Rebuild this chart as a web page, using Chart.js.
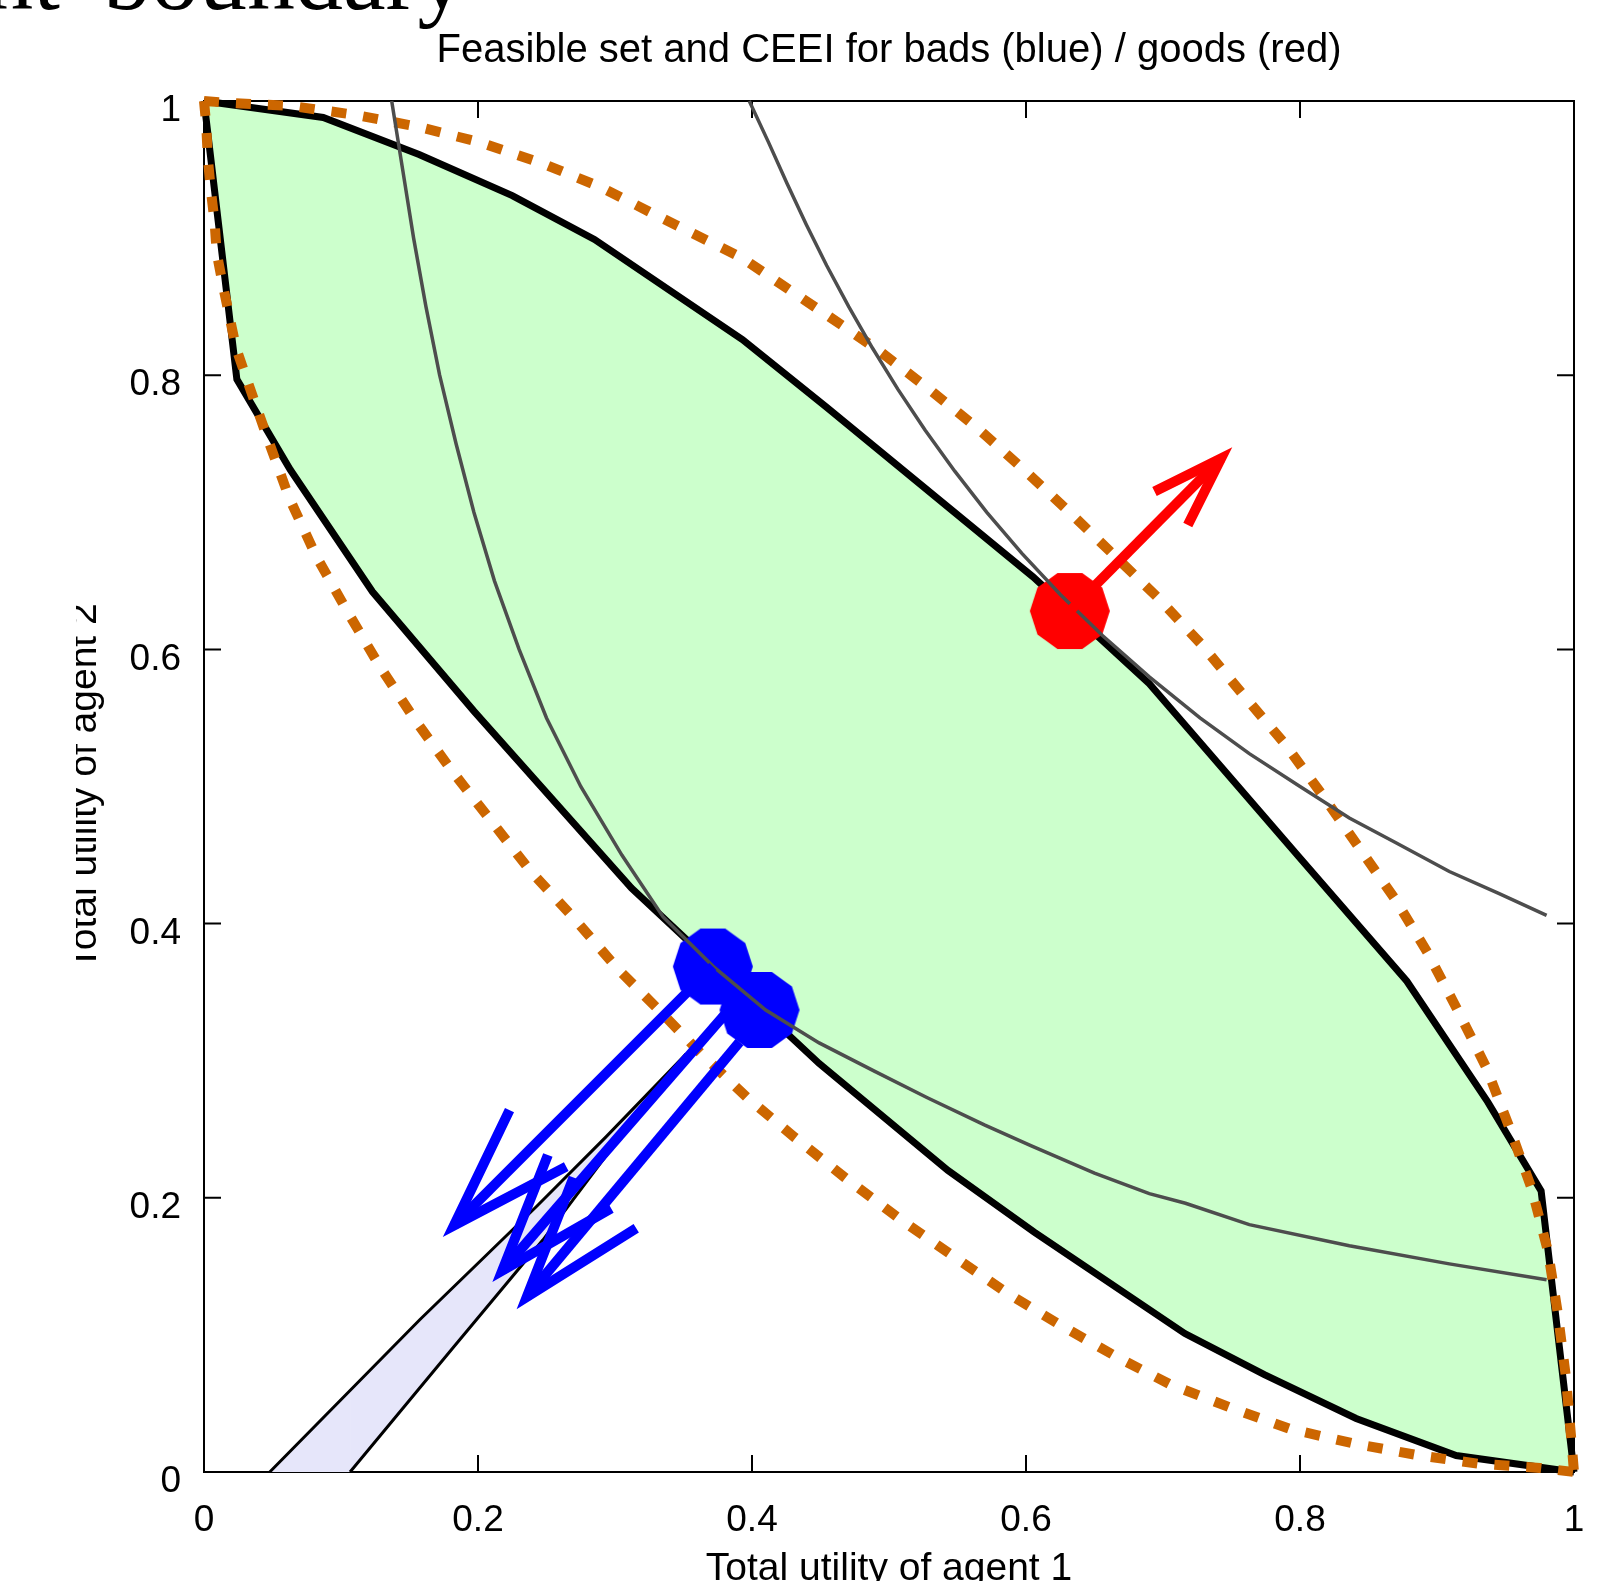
<!DOCTYPE html>
<html>
<head>
<meta charset="utf-8">
<script src="https://cdn.jsdelivr.net/npm/chart.js@4.4.0/dist/chart.umd.min.js"></script>
<style>
  html, body { margin: 0; padding: 0; background: #fff; }
  #wrap { position: relative; width: 1617px; height: 1581px; overflow: hidden; }
  #chart { position: absolute; left: 0; top: 0; }
  #cut { position: absolute; left: 0; top: 560px; width: 76px; height: 460px; background: #fff; }
</style>
</head>
<body>
<div id="wrap">
  <canvas id="chart" width="1617" height="1620"></canvas>
  <div id="cut"></div>
</div>
<script>
// feasible set: upper and lower boundary
const upperX = [0, 0.087, 0.157, 0.225, 0.285, 0.393, 0.454, 0.605, 0.690, 0.799, 0.878, 0.937, 0.976, 1];
const upperY = [1, 0.988, 0.961, 0.931, 0.899, 0.826, 0.777, 0.653, 0.575, 0.449, 0.358, 0.270, 0.205, 0];
const lowerX = [0, 0.024, 0.063, 0.123, 0.197, 0.312, 0.449, 0.543, 0.606, 0.716, 0.774, 0.841, 0.914, 1];
const lowerY = [1, 0.797, 0.731, 0.642, 0.555, 0.426, 0.298, 0.220, 0.175, 0.101, 0.071, 0.039, 0.012, 0];

// dotted bounds (outer / inner)
const outerX = [0, 0.0173, 0.0644, 0.111, 0.156, 0.201, 0.247, 0.29, 0.332, 0.392, 0.453, 0.492, 0.529, 0.565, 0.600, 0.634, 0.665, 0.696, 0.728, 0.758, 0.789, 0.8155, 0.842, 0.870, 0.893, 0.915, 0.936, 0.953, 0.969, 0.981, 0.988, 0.994, 0.998, 1];
const outerY = [1, 0.9987, 0.9963, 0.9898, 0.9813, 0.970, 0.9545, 0.937, 0.9157, 0.886, 0.845, 0.8184, 0.790, 0.761, 0.7297, 0.698, 0.668, 0.638, 0.6037, 0.5675, 0.531, 0.495, 0.457, 0.417, 0.379, 0.337, 0.295, 0.251, 0.207, 0.161, 0.117, 0.070, 0.024, 0];
const innerX = [0, 0.0016, 0.0028, 0.005, 0.0077, 0.0093, 0.0137, 0.0186, 0.0235, 0.031, 0.0466, 0.0624, 0.0819, 0.105, 0.129, 0.1544, 0.1816, 0.2108, 0.2388, 0.2704, 0.302, 0.333, 0.363, 0.397, 0.43, 0.47, 0.51, 0.549, 0.587, 0.627, 0.668, 0.705, 0.749, 0.792, 0.8385, 0.8848, 0.93, 0.975, 1];
const innerY = [1, 0.9831, 0.958, 0.935, 0.912, 0.889, 0.866, 0.8427, 0.8196, 0.7977, 0.7533, 0.710, 0.668, 0.627, 0.5865, 0.548, 0.5106, 0.4734, 0.4377, 0.4035, 0.367, 0.336, 0.305, 0.2726, 0.245, 0.213, 0.183, 0.156, 0.130, 0.106, 0.083, 0.064, 0.047, 0.0316, 0.0209, 0.0125, 0.006, 0.003, 0];

// indifference curves
const curveAX = [0.137, 0.145, 0.153, 0.162, 0.172, 0.184, 0.197, 0.212, 0.23, 0.25, 0.275, 0.305, 0.335, 0.3714, 0.41, 0.449, 0.49, 0.528, 0.57, 0.6035, 0.65, 0.69, 0.7164, 0.763, 0.836, 0.909, 0.98];
const curveAY = [1, 0.95, 0.9, 0.85, 0.8, 0.75, 0.7, 0.65, 0.6, 0.55, 0.5, 0.45, 0.405, 0.369, 0.337, 0.313, 0.292, 0.273, 0.253, 0.238, 0.218, 0.203, 0.196, 0.1804, 0.165, 0.1518, 0.1403];
const curveBX = [0.398, 0.412, 0.4255, 0.4396, 0.4545, 0.4706, 0.4878, 0.5063, 0.5263, 0.548, 0.5714, 0.597, 0.625, 0.656, 0.69, 0.727, 0.763, 0.80, 0.836, 0.87, 0.909, 0.945, 0.98];
const curveBY = [1, 0.97, 0.94, 0.91, 0.88, 0.85, 0.82, 0.79, 0.76, 0.73, 0.70, 0.67, 0.64, 0.61, 0.58, 0.55, 0.524, 0.5, 0.477, 0.459, 0.438, 0.422, 0.406];

// cone (lavender wedge)
const coneLeftX = [0.048, 0.1573, 0.2425, 0.2936, 0.352];
const coneLeftY = [0, 0.1109, 0.1935, 0.2446, 0.305];
const coneRightX = [0.048, 0.1066, 0.1804, 0.2473, 0.3155, 0.352];
const coneRightY = [0, 0, 0.089, 0.1692, 0.26, 0.305];

// equilibrium points
const badsX = [0.3714, 0.4055];
const badsY = [0.3687, 0.337];
const goodsX = [0.632];
const goodsY = [0.628];

// arrows: first one is goods, the rest bads
const arrowStartX = [0.632, 0.3714, 0.39, 0.3909];
const arrowStartY = [0.628, 0.3687, 0.345, 0.3136];
const arrowTipX = [0.7424, 0.1824, 0.2177, 0.2356];
const arrowTipY = [0.7393, 0.1798, 0.1469, 0.1277];
const barbAX = [0.6938, 0.223, 0.251, 0.2697];
const barbAY = [0.7151, 0.264, 0.2312, 0.2148];
const barbBX = [0.7181, 0.2644, 0.2972, 0.3155];
const barbBY = [0.6908, 0.2227, 0.1923, 0.1778];

const xTicks = [0, 0.2, 0.4, 0.6, 0.8, 1];
const xTickLabels = ['0', '0.2', '0.4', '0.6', '0.8', '1'];
const yTicks = [0, 0.2, 0.4, 0.6, 0.8, 1];
const yTickLabels = ['0', '0.2', '0.4', '0.6', '0.8', '1'];

const pts = (xs, ys) => xs.map((x, i) => ({x: x, y: ys[i]}));

function decagon(color, r) {
    const c = document.createElement('canvas');
    c.width = c.height = 2 * r + 2;
    const g = c.getContext('2d');
    g.fillStyle = color;
    g.beginPath();
    for (let k = 0; k < 10; k++) {
        const a = k * Math.PI / 5;
        g.lineTo(r + 1 + r * Math.cos(a), r + 1 + r * Math.sin(a));
    }
    g.closePath();
    g.fill();
    return c;
}

function line(data, color, width, order, extra) {
    return Object.assign({
        data: data,
        borderColor: color,
        borderWidth: width,
        pointRadius: 0,
        fill: false,
        tension: 0,
        clip: false,
        order: order
    }, extra || {});
}

const dotted = {borderDash: [15, 17], borderCapStyle: 'butt'};

const datasets = [
    line(pts(upperX, upperY), '#000', 7, 8, {fill: '+1', backgroundColor: '#ccffcc', borderJoinStyle: 'miter'}),
    line(pts(lowerX, lowerY), '#000', 7, 7, {borderJoinStyle: 'miter'}),
    line(pts(coneLeftX, coneLeftY), '#000', 3, 6, {fill: '+1', backgroundColor: '#e6e6fa'}),
    line(pts(coneRightX, coneRightY), '#000', 3, 5, {
        segment: { borderColor: c => c.p0DataIndex === 0 ? 'rgba(0,0,0,0)' : '#000' }
    }),
    line(pts(outerX, outerY), '#cc6600', 10, 4, dotted),
    line(pts(innerX, innerY), '#cc6600', 10, 4, dotted),
    line(pts(badsX, badsY), '#0000ff', 0, 3, {showLine: false, pointRadius: 40, pointStyle: decagon('#0000ff', 40)}),
    line(pts(goodsX, goodsY), '#ff0000', 0, 3, {showLine: false, pointRadius: 40, pointStyle: decagon('#ff0000', 40)}),
    line(pts(curveAX, curveAY), '#4d4d4d', 3.5, 2),
    line(pts(curveBX, curveBY), '#4d4d4d', 3.5, 2)
];

arrowTipX.forEach((tx, i) => {
    const color = i === 0 ? '#ff0000' : '#0000ff';
    const tip = {x: tx, y: arrowTipY[i]};
    datasets.push(line([{x: arrowStartX[i], y: arrowStartY[i]}, tip], color, 10, 1, {borderCapStyle: 'butt'}));
    datasets.push(line([{x: barbAX[i], y: barbAY[i]}, tip, {x: barbBX[i], y: barbBY[i]}], color, 10, 1,
        {borderJoinStyle: 'miter', borderCapStyle: 'butt'}));
});

// inward ticks on all four sides and a closed frame
const framePlugin = {
    id: 'frame',
    beforeDatasetsDraw(chart) {
        const {ctx, chartArea: a, scales} = chart;
        ctx.save();
        ctx.strokeStyle = '#000';
        ctx.lineWidth = 2;
        ctx.strokeRect(a.left, a.top, a.right - a.left, a.bottom - a.top);
        ctx.beginPath();
        xTicks.forEach(v => {
            const px = scales.x.getPixelForValue(v);
            ctx.moveTo(px, a.bottom); ctx.lineTo(px, a.bottom - 17);
            ctx.moveTo(px, a.top); ctx.lineTo(px, a.top + 17);
        });
        yTicks.forEach(v => {
            const py = scales.y.getPixelForValue(v);
            ctx.moveTo(a.left, py); ctx.lineTo(a.left + 17, py);
            ctx.moveTo(a.right, py); ctx.lineTo(a.right - 17, py);
        });
        ctx.stroke();
        ctx.restore();
    }
};

// leftover heading from the page the figure was cut from
const headingPlugin = {
    id: 'heading',
    afterDraw(chart) {
        const ctx = chart.ctx;
        ctx.save();
        ctx.fillStyle = '#000';
        ctx.font = '96px "Liberation Serif"';
        ctx.textBaseline = 'alphabetic';
        ctx.textAlign = 'right';
        ctx.fillText('nt', 60, 9);
        ctx.textAlign = 'left';
        ctx.fillText('boundary', 103, 9);
        ctx.restore();
    }
};

Chart.defaults.font.family = '"Liberation Sans", Arial, sans-serif';
Chart.defaults.color = '#000';

new Chart(document.querySelector('#chart'), {
    type: 'line',
    data: { datasets: datasets },
    options: {
        responsive: false,
        animation: false,
        devicePixelRatio: 1,
        events: [],
        layout: { padding: { left: 0, right: 43, top: 0, bottom: 0 } },
        plugins: {
            legend: { display: false },
            tooltip: { enabled: false },
            title: {
                display: true,
                fullSize: false,
                text: 'Feasible set and CEEI for bads (blue) / goods (red)',
                font: { size: 40, weight: 'normal' },
                color: '#000',
                padding: { top: 26.5, bottom: 26.5 }
            }
        },
        scales: {
            x: {
                type: 'linear',
                min: 0,
                max: 1,
                grid: { display: false },
                border: { display: false },
                afterBuildTicks: s => { s.ticks = xTicks.map(v => ({value: v})); },
                afterFit: s => { s.height = 148; },
                ticks: {
                    font: { size: 37 },
                    padding: 19,
                    maxRotation: 0,
                    callback: (v, i) => xTickLabels[i]
                },
                title: {
                    display: true,
                    text: 'Total utility of agent 1',
                    font: { size: 39 },
                    padding: { top: 0, bottom: 27.5 }
                }
            },
            y: {
                type: 'linear',
                min: 0,
                max: 1,
                grid: { display: false },
                border: { display: false },
                afterBuildTicks: s => { s.ticks = yTicks.map(v => ({value: v})); },
                afterFit: s => { s.width = 204; },
                ticks: {
                    font: { size: 37 },
                    padding: 15,
                    labelOffset: 10,
                    callback: (v, i) => yTickLabels[i]
                },
                title: {
                    display: true,
                    text: 'Total utility of agent 2',
                    font: { size: 39 },
                    padding: { top: 62, bottom: 0 }
                }
            }
        }
    },
    plugins: [framePlugin, headingPlugin]
});
</script>
</body>
</html>
